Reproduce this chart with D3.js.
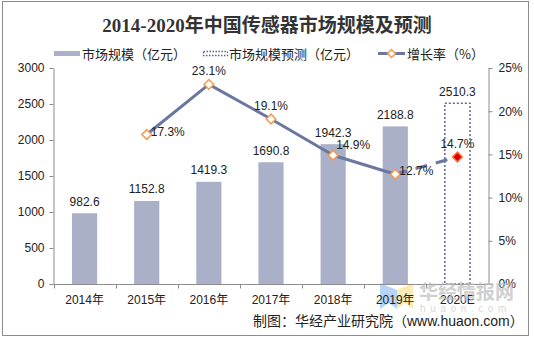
<!DOCTYPE html>
<html>
<head>
<meta charset="utf-8">
<script src="https://cdn.jsdelivr.net/npm/d3@7"></script>
<style>
  html, body { margin: 0; padding: 0; background: #fff; }
  svg { display: block; }
  text { font-family: "Liberation Sans", Arial, "Noto Sans CJK SC", sans-serif; }
</style>
</head>
<body>
<div id="chart"></div>
<script>
// 2014-2020 sensor market size (100M yuan) and growth (%)
const years = ['2014年', '2015年', '2016年', '2017年', '2018年', '2019年', '2020E'];
const marketSize = [982.6, 1152.8, 1419.3, 1690.8, 1942.3, 2188.8, null];
const forecastSize = [null, null, null, null, null, null, 2510.3];
const growthRate = [null, 17.3, 23.1, 19.1, 14.9, 12.7, 14.7];
const leftTicks = [0, 500, 1000, 1500, 2000, 2500, 3000];
const rightTicks = [0, 5, 10, 15, 20, 25];
// where each growth label sits relative to its marker
const rateLabelSide = [null, 'right', 'top', 'top', 'topright', 'right', 'top'];

const W = 534, H = 338;
const plot = { left: 53.5, right: 488.5, top: 68, bottom: 284 };

const barColor = '#aab0c7';
const lineColor = '#6b77a0';
const markerEdge = '#f39a52';

let svg = d3.select('#chart').append('svg')
    .attr('width', W)
    .attr('height', H);

svg.append('rect')
    .attr('x', 2.5).attr('y', 1.5)
    .attr('width', 526).attr('height', 334)
    .attr('fill', '#fff')
    .attr('stroke', '#8c8c8c');

let x = d3.scaleBand()
    .domain(years)
    .range([plot.left, plot.right]);

let y = d3.scaleLinear()
    .domain([0, 3000])
    .range([plot.bottom, plot.top]);

let yR = d3.scaleLinear()
    .domain([0, 25])
    .range([plot.bottom, plot.top]);

const barW = x.bandwidth() * 0.405;
const cx = d => x(d) + x.bandwidth() / 2;

// title
svg.append('text')
    .attr('x', 267).attr('y', 32)
    .attr('text-anchor', 'middle')
    .style('font-family', '"Liberation Serif", "Noto Sans CJK SC", serif')
    .style('font-weight', 'bold')
    .style('font-size', '19px')
    .attr('fill', '#333')
    .text('2014-2020年中国传感器市场规模及预测');

// legend
let legend = svg.append('g').style('font-size', '13px').attr('fill', '#222');
legend.append('rect')
    .attr('x', 54).attr('y', 51).attr('width', 26).attr('height', 5)
    .attr('fill', barColor);
legend.append('text').attr('x', 82).attr('y', 58.5).text('市场规模（亿元）')
    .style('font-family', '"Noto Sans CJK SC", sans-serif');
legend.append('rect')
    .attr('x', 203.5).attr('y', 51.5).attr('width', 24).attr('height', 4)
    .attr('fill', 'none')
    .attr('stroke', '#5d6699')
    .attr('stroke-width', 1.3)
    .attr('stroke-dasharray', '1.5,1.5');
legend.append('text').attr('x', 229).attr('y', 58.5).text('市场规模预测（亿元）')
    .style('font-family', '"Noto Sans CJK SC", sans-serif');
legend.append('line')
    .attr('x1', 378).attr('x2', 405).attr('y1', 53.5).attr('y2', 53.5)
    .attr('stroke', lineColor).attr('stroke-width', 3);
legend.append('path')
    .attr('d', d3.symbol(d3.symbolDiamond2, 40)())
    .attr('transform', 'translate(391.5,53.5)')
    .attr('fill', '#fff').attr('stroke', markerEdge).attr('stroke-width', 1.5);
legend.append('text').attr('x', 407).attr('y', 58.5).text('增长率（%）')
    .style('font-family', '"Noto Sans CJK SC", sans-serif');

// watermark logo, under the axis labels
let logo = svg.append('g').attr('opacity', 0.85);
logo.append('path')
    .attr('d', 'M380,283 L397,290 L397,309 L389,303 L380,309 Z')
    .attr('fill', '#a9cdf7');
logo.append('path')
    .attr('d', 'M397,290 L413,283 L413,309 L405,303 L397,309 Z')
    .attr('fill', '#fbe9a6');

// bars
svg.append('g')
    .selectAll('rect')
    .data(years.map((d, i) => ({ year: d, v: marketSize[i] })).filter(d => d.v != null))
    .enter()
    .append('rect')
        .attr('x', d => cx(d.year) - barW / 2)
        .attr('y', d => y(d.v))
        .attr('width', barW)
        .attr('height', d => y(0) - y(d.v))
        .attr('fill', barColor);

// forecast bar, dotted outline
svg.append('g')
    .selectAll('rect')
    .data(years.map((d, i) => ({ year: d, v: forecastSize[i] })).filter(d => d.v != null))
    .enter()
    .append('rect')
        .attr('x', d => cx(d.year) - barW / 2)
        .attr('y', d => y(d.v))
        .attr('width', barW)
        .attr('height', d => y(0) - y(d.v))
        .attr('fill', '#fff')
        .attr('stroke', '#5d6699')
        .attr('stroke-width', 1.5)
        .attr('stroke-dasharray', '2,2');

// bar value labels
let sizes = years.map((d, i) => ({ year: d, v: marketSize[i] != null ? marketSize[i] : forecastSize[i] }));
svg.append('g')
    .selectAll('text')
    .data(sizes)
    .enter()
    .append('text')
        .attr('x', d => cx(d.year))
        .attr('y', d => y(d.v) - 7.5)
        .attr('text-anchor', 'middle')
        .style('font-size', '12px')
        .attr('fill', '#222')
        .text(d => d.v.toFixed(1));

// left axis
let gl = svg.append('g')
    .attr('transform', 'translate(' + plot.left + ',0)')
    .call(d3.axisLeft(y).tickValues(leftTicks).tickSize(4).tickPadding(5).tickSizeOuter(0)
        .tickFormat(d3.format('d')));

// right axis
let gr = svg.append('g')
    .attr('transform', 'translate(' + plot.right + ',0)')
    .call(d3.axisRight(yR).tickValues(rightTicks).tickSize(4).tickPadding(6).tickSizeOuter(0)
        .tickFormat(d => d + '%'));

// bottom axis: ticks sit on the band edges, labels in the band centres
let gb = svg.append('g')
    .attr('transform', 'translate(0,' + (plot.bottom + 0.5) + ')');
gb.append('line')
    .attr('x1', plot.left).attr('x2', plot.right)
    .attr('stroke', '#8c8c8c');
gb.selectAll('.edge')
    .data(years)
    .enter()
    .append('line')
        .attr('class', 'edge')
        .attr('x1', d => Math.round(x(d)) + 0.5)
        .attr('x2', d => Math.round(x(d)) + 0.5)
        .attr('y1', 0).attr('y2', 4)
        .attr('stroke', '#8c8c8c');
gb.selectAll('.lab')
    .data(years)
    .enter()
    .append('text')
        .attr('class', 'lab')
        .attr('x', d => cx(d))
        .attr('y', 19)
        .attr('text-anchor', 'middle')
        .style('font-size', '12px')
        .attr('fill', '#222')
        .text(d => d);

[gl, gr].forEach(g => {
    g.selectAll('path').attr('stroke', '#8c8c8c');
    g.selectAll('line').attr('stroke', '#8c8c8c');
    g.selectAll('text')
        .style('font-family', '"Liberation Sans", Arial, sans-serif')
        .style('font-size', '12px')
        .attr('fill', '#222');
});

// growth line
let rates = years.map((d, i) => ({ year: d, v: growthRate[i], side: rateLabelSide[i] })).filter(d => d.v != null);
let actual = rates.slice(0, rates.length - 1);
let projected = rates.slice(rates.length - 2);

let line = d3.line()
    .x(d => cx(d.year))
    .y(d => yR(d.v));

svg.append('path')
    .datum(actual)
    .attr('d', line)
    .attr('fill', 'none')
    .attr('stroke', lineColor)
    .attr('stroke-width', 3)
    .attr('stroke-linejoin', 'round');

svg.append('path')
    .datum(projected)
    .attr('d', line)
    .attr('fill', 'none')
    .attr('stroke', lineColor)
    .attr('stroke-width', 3)
    .attr('stroke-dasharray', '12,9');

svg.append('g')
    .selectAll('path')
    .data(rates)
    .enter()
    .append('path')
        .attr('d', d3.symbol(d3.symbolDiamond2, 60)())
        .attr('transform', d => 'translate(' + cx(d.year) + ',' + yR(d.v) + ')')
        .attr('fill', (d, i) => i === rates.length - 1 ? '#d00000' : '#fff')
        .attr('stroke', (d, i) => i === rates.length - 1 ? '#ff6a3a' : markerEdge)
        .attr('stroke-width', 1.5);

svg.append('g')
    .selectAll('text')
    .data(rates)
    .enter()
    .append('text')
        .attr('x', d => d.side === 'top' ? cx(d.year) : cx(d.year) + (d.side === 'right' ? 4 : 3))
        .attr('y', d => yR(d.v) + (d.side === 'top' ? -13 : d.side === 'topright' ? -10 : -3) + 4)
        .attr('text-anchor', d => d.side === 'top' ? 'middle' : 'start')
        .style('font-size', '12px')
        .attr('fill', '#222')
        .text(d => d.v.toFixed(1) + '%');

// watermark text and source note
svg.append('text')
    .attr('x', 419).attr('y', 299)
    .style('font-family', '"Noto Sans CJK SC", sans-serif')
    .style('font-weight', 'bold')
    .style('font-size', '19px')
    .attr('fill', '#bdbdbd')
    .attr('opacity', 0.7)
    .text('华经情报网');
svg.append('text')
    .attr('x', 420).attr('y', 312)
    .style('font-size', '10px')
    .style('letter-spacing', '4.6px')
    .attr('fill', '#cfcfcf')
    .attr('opacity', 0.8)
    .text('huaon.com');

svg.append('text')
    .attr('x', 253).attr('y', 326)
    .style('font-size', '14px')
    .attr('fill', '#222')
    .text('制图：华经产业研究院（www.huaon.com）');
</script>
</body>
</html>
